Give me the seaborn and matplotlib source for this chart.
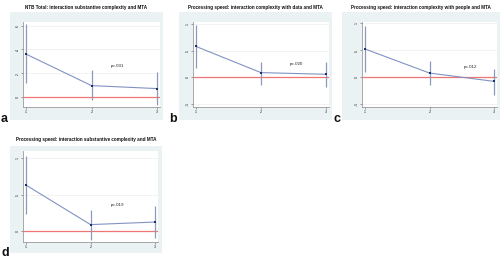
import matplotlib
matplotlib.use("Agg")
import matplotlib.pyplot as plt
import seaborn as sns
import pandas as pd
from matplotlib.patches import Rectangle

sns.set_style("white")
plt.rcParams['font.family'] = ['Liberation Sans', 'DejaVu Sans']

# ---- data ----
levels = [1, 2, 3]
titles = [
    "NTB Total: interaction substantive complexity and MTA",
    "Processing speed: interaction complexity with data and MTA",
    "Processing speed: interaction complexity with people and MTA",
    "Processing speed: interaction substantive complexity and MTA",
]
panel_letters = ["a", "b", "c", "d"]
est_a = [0.36, 0.095, 0.07]
lo_a = [0.12, -0.03, -0.07]
hi_a = [0.61, 0.23, 0.21]
est_b = [0.58, 0.087, 0.056]
lo_b = [0.18, -0.14, -0.18]
hi_b = [0.98, 0.29, 0.29]
est_c = [0.52, 0.074, -0.08]
lo_c = [0.10, -0.14, -0.34]
hi_c = [0.95, 0.30, 0.15]
est_d = [0.63, 0.085, 0.12]
lo_d = [0.235, -0.13, -0.10]
hi_d = [1.03, 0.29, 0.34]
p_labels = ["p=.031", "p=.020", "p=.012", "p=.019"]
p_pos = [(2.40, 0.26), (2.55, 0.24), (2.63, 0.19), (2.42, 0.35)]
yticks_a = [0, 0.2, 0.4, 0.6]
ytl_a = ["0", ".2", ".4", ".6"]
yticks_bc = [-0.5, 0, 0.5, 1]
ytl_bc = ["-.5", "0", ".5", "1"]
yticks_d = [0, 0.5, 1]
ytl_d = ["0", ".5", "1"]

ests = [est_a, est_b, est_c, est_d]
los = [lo_a, lo_b, lo_c, lo_d]
his = [hi_a, hi_b, hi_c, hi_d]
yticks = [yticks_a, yticks_bc, yticks_bc, yticks_d]
ytls = [ytl_a, ytl_bc, ytl_bc, ytl_d]
ylims = [(-0.085, 0.63), (-0.56, 1.04), (-0.555, 1.02), (-0.155, 1.10)]

# ---- layout (pixels) ----
W, H = 500, 260
axes_px = [(23, 22, 160, 107), (193, 22, 329, 107), (362, 22, 497, 107), (23, 151, 158, 242)]
bg_px = [(10, 12, 163, 120), (179, 12, 332, 120), (342, 12, 500, 120), (10, 146, 162, 253)]
title_y = [7, 7, 7, 140]
letter_px = [(1, 122), (169, 122), (333, 122), (1, 256)]

fig = plt.figure(figsize=(W / 100, H / 100), dpi=100)
fig.patch.set_facecolor("white")

BG = "#eaf2f3"
LINE = "#8193c2"
CI = "#8a9abd"
MARK = "#1a2f6e"
RED = "#f07575"

for i in range(4):
    x0, y0, x1, y1 = bg_px[i]
    fig.patches.append(Rectangle((x0 / W, 1 - y1 / H), (x1 - x0) / W, (y1 - y0) / H,
                                 transform=fig.transFigure, facecolor=BG, edgecolor="none", zorder=-5))
    ax0, ay0, ax1, ay1 = axes_px[i]
    ax = fig.add_axes([ax0 / W, 1 - ay1 / H, (ax1 - ax0) / W, (ay1 - ay0) / H])
    ax.set_zorder(2)
    ax.set_facecolor("white")
    df = pd.DataFrame({"x": levels, "y": ests[i]})
    ax.axhline(0, color=RED, lw=0.9, zorder=1.5)
    ax.vlines(levels, los[i], his[i], color=CI, lw=0.9, zorder=2)
    sns.lineplot(data=df, x="x", y="y", ax=ax, color=LINE, lw=0.8, marker="s",
                 markersize=2.1, markerfacecolor=MARK, markeredgewidth=0, zorder=3)
    ax.set_xlim(0.954, 3.046)
    ax.set_ylim(*ylims[i])
    ax.set_xticks(levels)
    ax.set_xticklabels([str(v) for v in levels])
    ax.set_yticks(yticks[i])
    ax.set_yticklabels(ytls[i], rotation=90, va="center")
    ax.set_xlabel("")
    ax.set_ylabel("")
    ax.grid(axis="y", color="#eeeeee", lw=0.5, zorder=0.5)
    ax.set_axisbelow(True)
    for s in ["top", "right"]:
        ax.spines[s].set_visible(False)
    for s in ["left", "bottom"]:
        ax.spines[s].set_color("#9a9a9a")
        ax.spines[s].set_linewidth(0.6)
    ax.tick_params(axis="both", labelsize=2.6, length=1.5, width=0.4, pad=1.0,
                   colors="#555555", labelcolor="#222222", direction="out",
                   bottom=True, left=True)
    px, py = p_pos[i]
    ax.text(px, py, p_labels[i], fontsize=3.2, color="#222222", ha="center", va="center")
    cx = (bg_px[i][0] + bg_px[i][2]) / 2 / W
    fig.text(cx, 1 - title_y[i] / H, titles[i], fontsize=3.3, fontweight="bold",
             ha="center", va="center", color="#111111")
    lx, ly = letter_px[i]
    fig.text(lx / W, 1 - ly / H, panel_letters[i], fontsize=9, fontweight="bold",
             ha="left", va="baseline", color="#111111")

fig.savefig("out.png", dpi=100, facecolor="white")
